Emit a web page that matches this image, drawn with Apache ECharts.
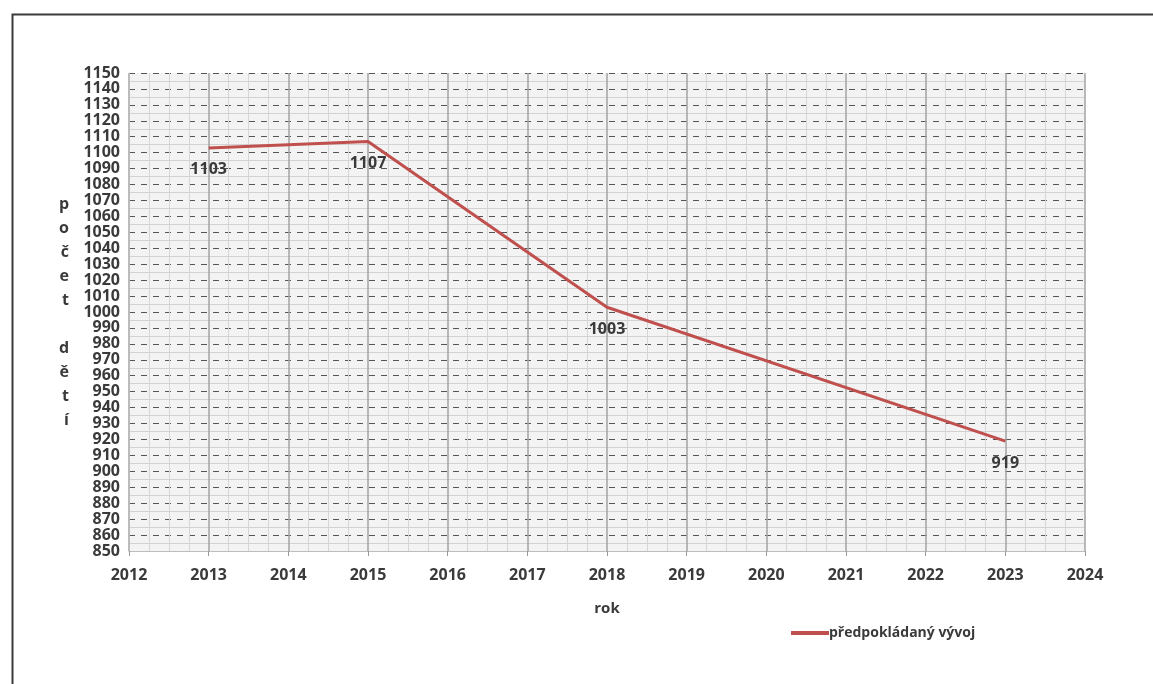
<!DOCTYPE html>
<html>
<head>
<meta charset="utf-8">
<script src="https://cdn.jsdelivr.net/npm/echarts@6/dist/echarts.min.js"></script>
<style>
html,body{margin:0;padding:0;background:#fff;}
#chart{width:1153px;height:684px;}
</style>
</head>
<body>
<div id="chart"></div>
<script>
const years = [2013, 2015, 2018, 2023];
const values = [1103, 1107, 1003, 919];
const seriesName = 'předpokládaný vývoj';
const xAxisName = 'rok';
const yAxisName = 'počet dětí';

const font = '"Open Sans", "Noto Sans", sans-serif';
const txt = '#3a3a3a';

const chart = echarts.init(document.getElementById('chart'));
chart.setOption({
  backgroundColor: '#fff',
  animation: false,
  graphic: [{
    type: 'rect', left: 10, top: 12,
    shape: {width: 1200, height: 720},
    style: {fill: 'none', stroke: '#3a3a3a', lineWidth: 2},
    z: 100
  }],
  grid: {left: 129, right: 68, top: 73, bottom: 133, show: true, backgroundColor: '#f3f3f3', borderWidth: 0},
  legend: {
    left: 786, top: 621,
    itemWidth: 38, itemHeight: 10, itemGap: 2,
    data: [{name: seriesName, icon: 'path://M0,3 L38,3 L38,7 L0,7 Z'}],
    textStyle: {fontFamily: font, fontWeight: 'bold', fontSize: 14, color: txt, padding: [0,0,0,-5]}
  },
  xAxis: {
    type: 'value', min: 2012, max: 2024, interval: 1,
    name: xAxisName, nameLocation: 'middle', nameGap: 50,
    nameTextStyle: {fontFamily: font, fontWeight: 'bold', fontSize: 15, color: txt},
    axisLine: {show: true, lineStyle: {color: '#bdbdbd'}},
    axisTick: {show: true, length: 5, lineStyle: {color: '#999'}},
    axisLabel: {fontFamily: font, fontWeight: 'bold', fontSize: 16, color: txt, margin: 16, formatter: v => String(v)},
    splitLine: {show: true, lineStyle: {color: '#a3a3a3', width: 1.5}},
    minorTick: {show: false, splitNumber: 4},
    minorSplitLine: {show: true, lineStyle: {color: '#d6d6d6', width: 1}}
  },
  yAxis: {
    type: 'value', min: 850, max: 1150, interval: 10,
    name: yAxisName.split('').map(c => c === ' ' ? '' : c).join('\n'),
    nameLocation: 'middle', nameRotate: 0, nameGap: 60,
    nameTextStyle: {fontFamily: font, fontWeight: 'bold', fontSize: 16, color: txt, lineHeight: 24},
    axisLine: {show: true, lineStyle: {color: '#bdbdbd'}},
    axisTick: {show: false},
    axisLabel: {fontFamily: font, fontWeight: 'bold', fontSize: 16, color: txt, margin: 9, lineHeight: 16, formatter: v => String(v)},
    splitLine: {show: true, lineStyle: {color: '#555', width: 1, type: [6, 6]}},
    minorTick: {show: false, splitNumber: 2},
    minorSplitLine: {show: true, lineStyle: {color: '#d2d2d2', width: 1}}
  },
  series: [{
    name: seriesName,
    type: 'line',
    data: years.map((y, i) => [y, values[i]]),
    showSymbol: true,
    symbol: 'circle',
    symbolSize: 0.1,
    lineStyle: {color: '#c0504d', width: 3},
    itemStyle: {color: '#c0504d'},
    label: {
      show: true, position: 'bottom', distance: 14,
      fontFamily: font, fontWeight: 'bold', fontSize: 16, color: txt,
      formatter: p => String(p.value[1])
    },
    z: 5
  }]
});
</script>
</body>
</html>
